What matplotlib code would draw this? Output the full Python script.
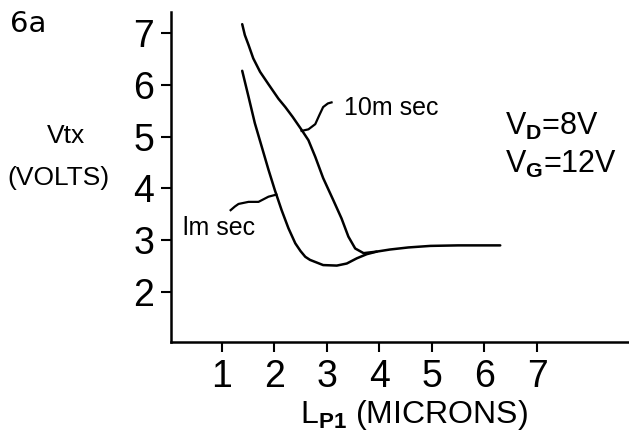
import matplotlib.pyplot as plt

# threshold voltage vs. L_P1
x_10ms = [1.39, 1.44, 1.51, 1.60, 1.73, 1.89, 2.08, 2.21, 2.35, 2.52, 2.65, 2.78,
          2.93, 3.12, 3.28, 3.41, 3.54, 3.70, 3.95, 4.20, 4.55, 4.97, 5.50, 6.30]
y_10ms = [7.17, 6.96, 6.77, 6.51, 6.25, 6.01, 5.73, 5.57, 5.38, 5.13, 4.93, 4.61,
          4.20, 3.78, 3.42, 3.07, 2.84, 2.75, 2.78, 2.82, 2.86, 2.89, 2.90, 2.90]
x_1ms = [1.39, 1.51, 1.63, 1.76, 1.89, 2.01, 2.14, 2.27, 2.40, 2.50, 2.59, 2.68,
         2.93, 3.19, 3.38, 3.57, 3.76, 3.95]
y_1ms = [6.27, 5.77, 5.26, 4.81, 4.36, 3.97, 3.58, 3.23, 2.94, 2.79, 2.68, 2.62,
         2.52, 2.51, 2.55, 2.65, 2.73, 2.78]

# leader lines to the curve labels
lead_10_x = [2.52, 2.65, 2.78, 2.86, 2.93, 3.02, 3.09]
lead_10_y = [5.11, 5.14, 5.24, 5.42, 5.57, 5.64, 5.66]
lead_1_x = [2.04, 1.89, 1.70, 1.51, 1.32, 1.25, 1.17]
lead_1_y = [3.88, 3.84, 3.74, 3.74, 3.70, 3.65, 3.58]

x_ticks = [1, 2, 3, 4, 5, 6, 7]
y_ticks = [2, 3, 4, 5, 6, 7]

plt.rcParams['font.family'] = ['Liberation Sans', 'DejaVu Sans']
plt.rcParams['mathtext.fontset'] = 'custom'
plt.rcParams['mathtext.rm'] = 'Liberation Sans'
plt.rcParams['mathtext.bf'] = 'Liberation Sans:bold'

fig = plt.figure(figsize=(6.29, 4.32), dpi=100)
ax = fig.add_axes([171 / 629, 90 / 432, 458 / 629, 330 / 432])

ax.plot(x_10ms, y_10ms, color='black', lw=1.8, solid_capstyle='round',
        solid_joinstyle='round')
ax.plot(x_1ms, y_1ms, color='black', lw=1.8, solid_capstyle='round',
        solid_joinstyle='round')
ax.plot(lead_10_x, lead_10_y, color='black', lw=1.6, solid_joinstyle='round')
ax.plot(lead_1_x, lead_1_y, color='black', lw=1.6, solid_joinstyle='round')

ax.text(3.32, 5.42, '10m sec', fontsize=18)
ax.text(0.26, 3.10, 'lm sec', fontsize=18)

ax.set_xlim(0.035, 8.75)
ax.set_ylim(1.035, 7.405)
ax.set_xticks(x_ticks)
ax.set_yticks(y_ticks)
ax.set_xticklabels([str(v) for v in x_ticks])
ax.set_yticklabels([str(v) for v in y_ticks])
ax.tick_params(axis='both', direction='out', length=7, width=1.5, pad=5, labelsize=27)

for side in ['top', 'right']:
    ax.spines[side].set_visible(False)
for side in ['left', 'bottom']:
    ax.spines[side].set_linewidth(1.8)

fig.text(10 / 629, 1 - 32 / 432, '6a', fontsize=21, family='DejaVu Sans', va='baseline')
fig.text(66 / 629, 1 - 143 / 432, 'Vtx', fontsize=19, ha='center', va='baseline')
fig.text(58 / 629, 1 - 185 / 432, '(VOLTS)', fontsize=19, ha='center', va='baseline')
fig.text(505 / 629, 1 - 135 / 432, r'V$_\mathbf{D}$=8V', fontsize=22, va='baseline')
fig.text(505 / 629, 1 - 173 / 432, r'V$_\mathbf{G}$=12V', fontsize=22, va='baseline')
fig.text(300 / 629, 1 - 423 / 432, r'L$_\mathbf{P1}$ (MICRONS)', fontsize=23, va='baseline')

fig.savefig('out.png', dpi=100)
